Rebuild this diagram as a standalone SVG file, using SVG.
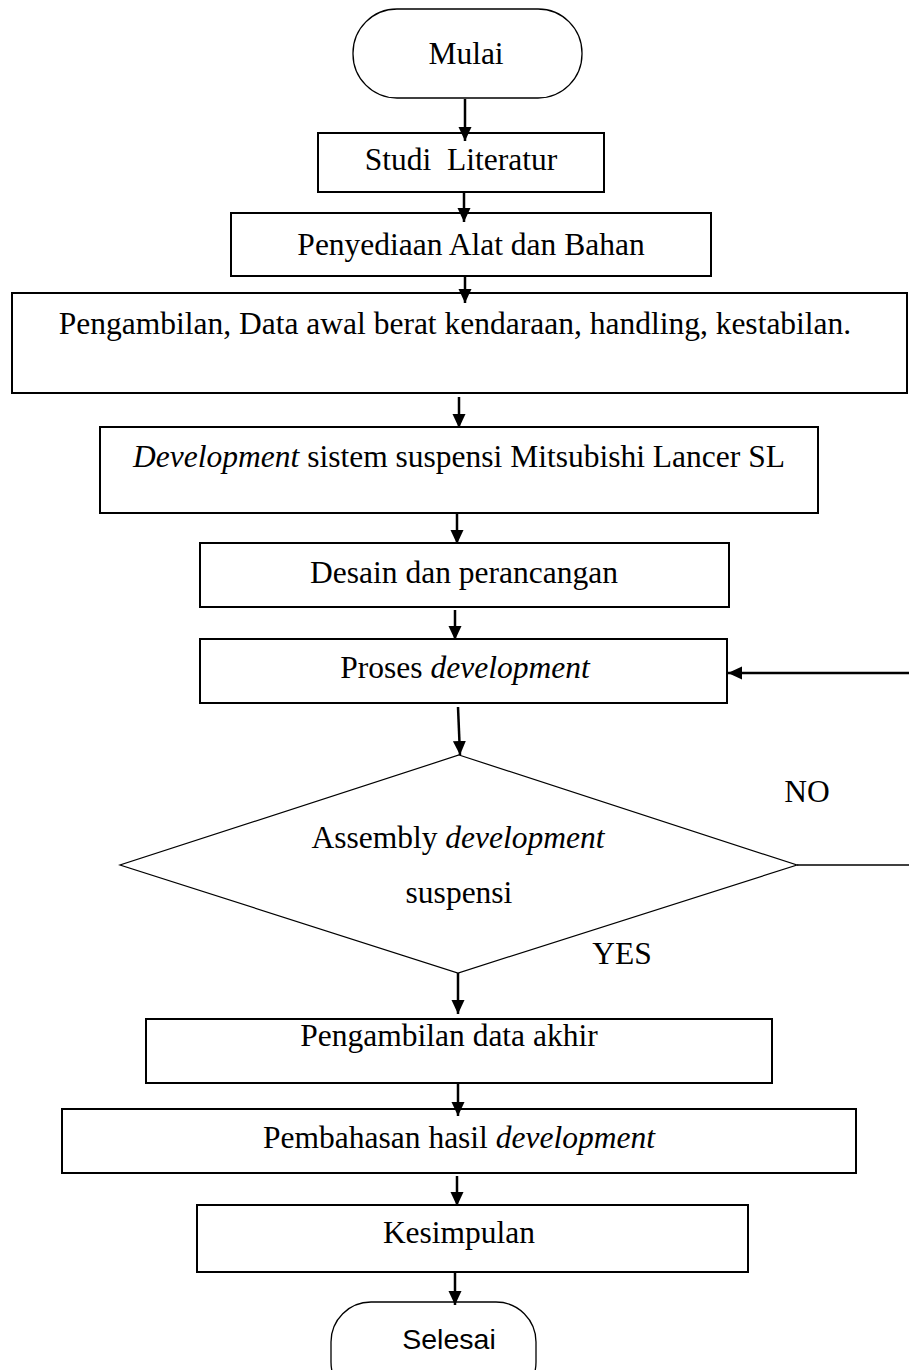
<svg xmlns="http://www.w3.org/2000/svg" width="909" height="1370" viewBox="0 0 909 1370">
<style>
.box{fill:#fff;stroke:#000;stroke-width:2}
.thin{fill:#fff;stroke:#000;stroke-width:1.3}
.t{font-family:"Liberation Serif","Times New Roman",serif;font-size:31.5px;fill:#000;text-anchor:middle}
.s{font-family:"Liberation Sans",Arial,sans-serif;font-size:28.5px;fill:#000;text-anchor:middle}
.i{font-style:italic}
.c{stroke:#000;stroke-width:2.5;fill:none}
.cn{stroke:#000;stroke-width:1.5;fill:none}
</style>
<defs>
<marker id="ah" markerUnits="userSpaceOnUse" markerWidth="14" markerHeight="14" refX="14" refY="7" orient="auto">
<path d="M0,0.5 L14,7 L0,13.5 z" fill="#000"/>
</marker>
</defs>
<rect width="909" height="1370" fill="#fff"/>

<g id="mulai"><rect class="thin" x="353" y="9" width="229" height="89" rx="44" ry="44"/><text class="t" x="466" y="64">Mulai</text></g>
<g id="studi"><rect class="box" x="318" y="133" width="286" height="59"/><text class="t" x="461" y="170" xml:space="preserve">Studi  Literatur</text></g>
<g id="penyediaan"><rect class="box" x="231" y="213" width="480" height="63"/><text class="t" x="471" y="255">Penyediaan Alat dan Bahan</text></g>
<g id="pengambilan"><rect class="box" x="12" y="293" width="895" height="100"/><text class="t" x="455" y="334">Pengambilan, Data awal berat kendaraan, handling, kestabilan.</text></g>
<g id="development"><rect class="box" x="100" y="427" width="718" height="86"/><text class="t" x="459" y="467"><tspan class="i">Development</tspan> sistem suspensi Mitsubishi Lancer SL</text></g>
<g id="desain"><rect class="box" x="200" y="543" width="529" height="64"/><text class="t" x="464" y="583">Desain dan perancangan</text></g>
<g id="proses"><rect class="box" x="200" y="639" width="527" height="64"/><text class="t" x="465" y="678">Proses <tspan class="i">development</tspan></text></g>
<g id="assembly"><polygon points="459,755 797,865 458,973 120,865" fill="#fff" stroke="#000" stroke-width="1.2"/><text class="t" x="458" y="848">Assembly <tspan class="i">development</tspan></text><text class="t" x="459" y="903">suspensi</text></g>
<g id="akhir"><rect class="box" x="146" y="1019" width="626" height="64"/><text class="t" x="449" y="1046">Pengambilan data akhir</text></g>
<g id="pembahasan"><rect class="box" x="62" y="1109" width="794" height="64"/><text class="t" x="459" y="1148">Pembahasan hasil <tspan class="i">development</tspan></text></g>
<g id="kesimpulan"><rect class="box" x="197" y="1205" width="551" height="67"/><text class="t" x="459" y="1243">Kesimpulan</text></g>
<g id="selesai"><rect class="thin" x="331" y="1302" width="205" height="100" rx="40" ry="40"/><text class="s" x="449" y="1349">Selesai</text></g>

<g id="connectors">
<line class="c" x1="465" y1="99" x2="465" y2="141" marker-end="url(#ah)"/>
<line class="c" x1="464" y1="193" x2="464" y2="222" marker-end="url(#ah)"/>
<line class="c" x1="465" y1="277" x2="465" y2="303" marker-end="url(#ah)"/>
<line class="c" x1="459" y1="397" x2="459" y2="428" marker-end="url(#ah)"/>
<line class="c" x1="457" y1="514" x2="457" y2="544" marker-end="url(#ah)"/>
<line class="c" x1="455" y1="610" x2="455" y2="640" marker-end="url(#ah)"/>
<line class="c" x1="458" y1="707" x2="460" y2="755" marker-end="url(#ah)"/>
<line class="c" x1="909" y1="673" x2="728" y2="673" marker-end="url(#ah)"/>
<line class="cn" x1="797" y1="865" x2="909" y2="865"/>
<line class="c" x1="458" y1="973" x2="458" y2="1014" marker-end="url(#ah)"/>
<line class="c" x1="458" y1="1084" x2="458" y2="1116" marker-end="url(#ah)"/>
<line class="c" x1="457" y1="1176" x2="457" y2="1206" marker-end="url(#ah)"/>
<line class="c" x1="455" y1="1273" x2="455" y2="1305" marker-end="url(#ah)"/>
</g>
<text class="t" x="807" y="802">NO</text>
<text class="t" x="622" y="964">YES</text>
</svg>
